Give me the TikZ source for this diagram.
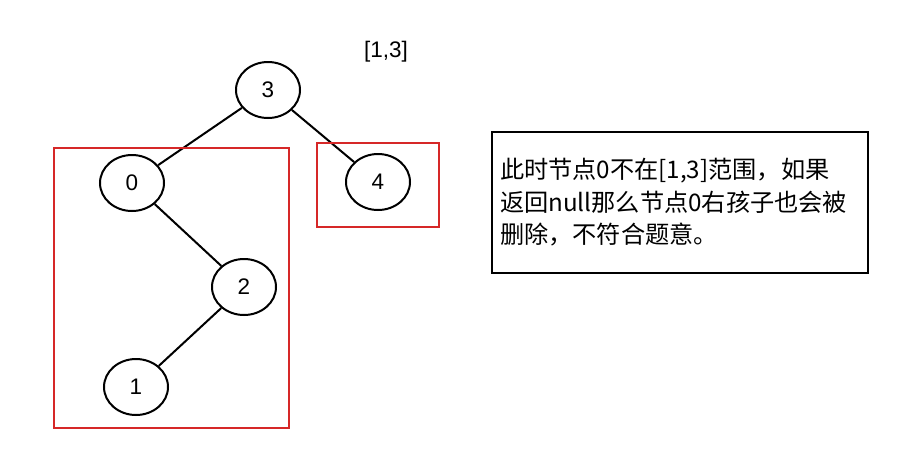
\documentclass[tikz,border=0pt]{standalone}
\usepackage{fontspec}
\setmainfont{Liberation Sans}
\newfontfamily\cjk{Noto Sans CJK SC}
\usetikzlibrary{shapes.geometric}
\definecolor{boxred}{RGB}{214,40,40}
\begin{document}
\begin{tikzpicture}[x=1pt,y=-1pt,
  tnode/.style={ellipse,draw,line width=2pt,minimum width=64pt,minimum height=56pt,inner sep=0pt,font=\fontsize{22.5}{27}\selectfont},
  redbox/.style={draw=boxred,line width=2pt},
  tedge/.style={line width=2pt}]
\useasboundingbox (0,0) rectangle (919,459);
\node[tnode] (3) at (268,90) {3};
\node[tnode] (0) at (132,183) {0};
\node[tnode] (4) at (378,182) {4};
\node[tnode] (2) at (244,287) {2};
\node[tnode] (1) at (136,387) {1};

\draw[tedge] (3) -- (0);
\draw[tedge] (3) -- (4);
\draw[tedge] (0) -- (2);
\draw[tedge] (2) -- (1);

\draw[redbox] (54,148) rectangle (289,428);
\draw[redbox] (317,143) rectangle (439,227);

\node[font=\fontsize{22.5}{27}\selectfont] (range) at (386,52) {[1,3]};
\node[draw,line width=2pt,text width=360pt,inner xsep=8pt,minimum height=141pt,align=left,
  font=\cjk\fontsize{24.2}{32.5}\selectfont] (note) at (680,202.5)
  {\raisebox{-3pt}{\parbox{360pt}{此时节点0不在[1,3]范围，如果\\返回null那么节点0右孩子也会被\\删除，不符合题意。}}};
\end{tikzpicture}
\end{document}
